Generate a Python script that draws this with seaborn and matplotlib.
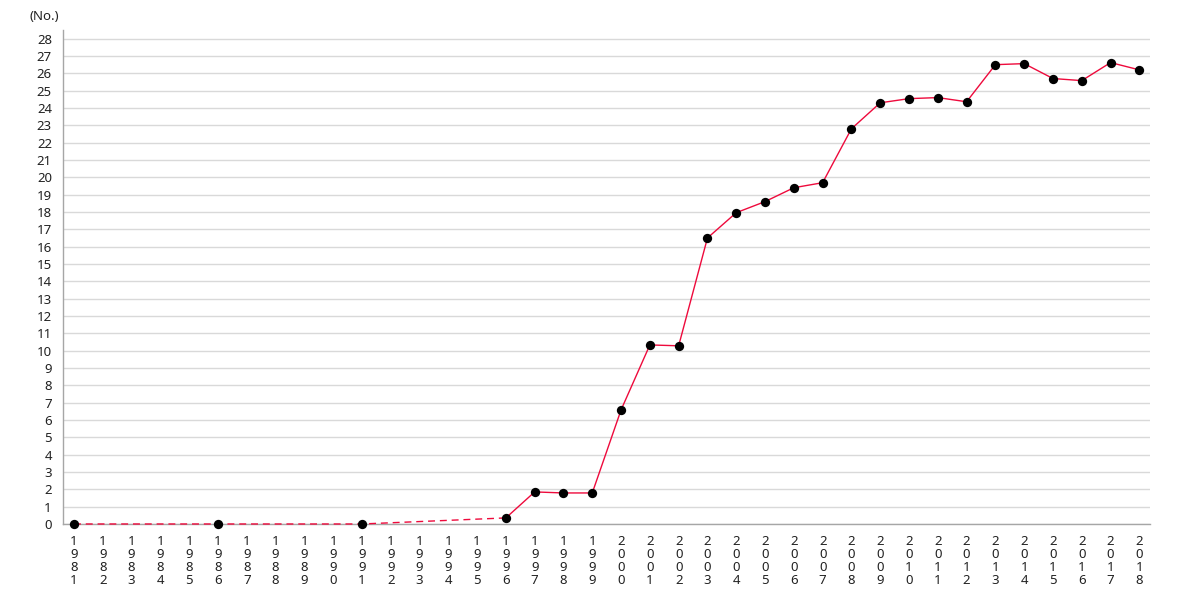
import matplotlib
matplotlib.use("Agg")
import matplotlib.pyplot as plt
import seaborn as sns
import pandas as pd

# early years: only a few survey points, drawn dashed
early_years = [1981, 1986, 1991, 1996]
early_values = [0, 0, 0, 0.35]
early_marked = [1981, 1986, 1991]

# yearly data from 1996 on, drawn solid
years = list(range(1996, 2019))
values = [0.35, 1.85, 1.79, 1.79, 6.58, 10.33, 10.28, 16.5, 17.96, 18.6,
          19.4, 19.69, 22.8, 24.3, 24.54, 24.6, 24.36, 26.5, 26.56, 25.7,
          25.58, 26.62, 26.2]

all_years = list(range(1981, 2019))
line_color = "#ee0a3c"

sns.set_style("white")
plt.rcParams["font.family"] = ["Noto Sans", "DejaVu Sans"]

early = pd.DataFrame({"year": early_years, "value": early_values})
late = pd.DataFrame({"year": years, "value": values})
points = pd.concat([early[early["year"].isin(early_marked)], late])

fig = plt.figure(figsize=(11.8, 6), dpi=100)
ax = fig.add_axes([0.0534, 0.1267, 0.9212, 0.8233])

sns.lineplot(data=early, x="year", y="value", ax=ax, color=line_color,
             linewidth=1, linestyle=(0, (5, 3.5)), clip_on=False, zorder=4)
sns.lineplot(data=late, x="year", y="value", ax=ax, color=line_color,
             linewidth=1, clip_on=False, zorder=4)
sns.scatterplot(data=points, x="year", y="value", ax=ax, color="black",
                s=45, edgecolor="black", linewidth=0, zorder=5, clip_on=False)

ax.set_xlim(1980.62, 2018.37)
ax.set_ylim(0, 28.5)
ax.set_yticks(range(0, 29))
ax.set_xticks(all_years)
ax.set_xticklabels(["\n".join(str(y)) for y in all_years], linespacing=1.0)
ax.grid(axis="y", color="#d9d9d9", linewidth=1)
ax.set_axisbelow(True)

for side in ["top", "right"]:
    ax.spines[side].set_visible(False)
for side in ["left", "bottom"]:
    ax.spines[side].set_color("#a6a6a6")
    ax.spines[side].set_linewidth(1)
    ax.spines[side].set_zorder(2)

ax.tick_params(axis="both", which="major", length=5, width=1, color="#a6a6a6",
               labelsize=9.5, labelcolor="#222222", direction="out", pad=3)
ax.set_xlabel("")
ax.set_ylabel("")

fig.text(0.025, 0.973, "(No.)", fontsize=9.5, color="#222222", ha="left", va="center")

plt.savefig("out.png", dpi=100)
